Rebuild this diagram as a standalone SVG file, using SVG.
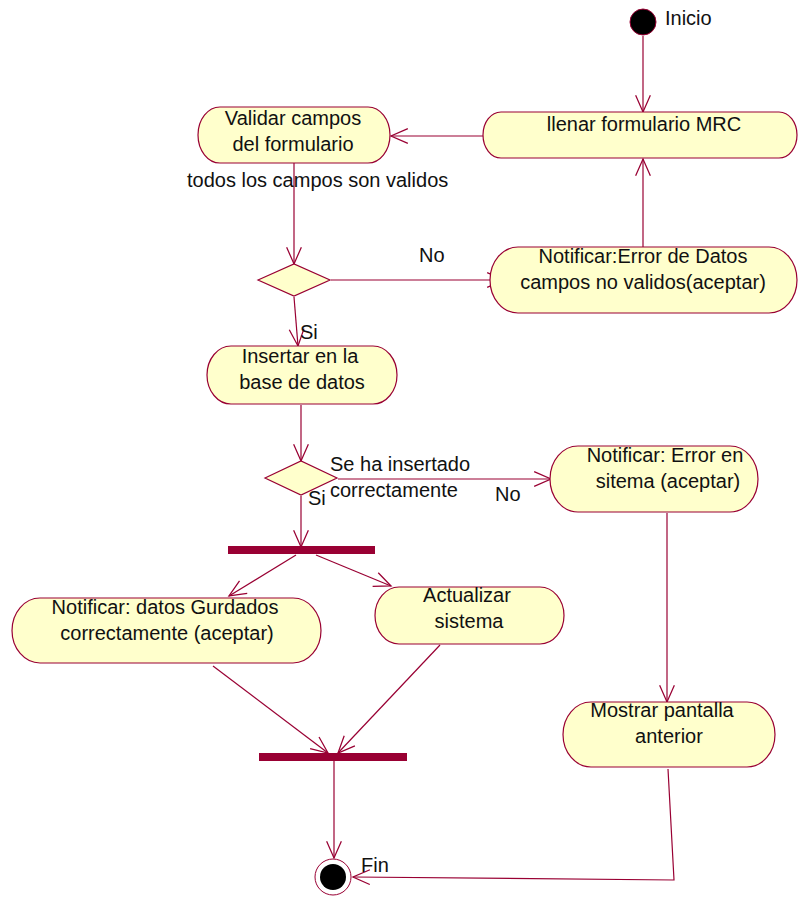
<svg xmlns="http://www.w3.org/2000/svg" width="798" height="897" viewBox="0 0 798 897">
<defs>
<style>
.act{fill:#ffffcc;stroke:#990033;stroke-width:1.2}
.bar{fill:#990033}
.c{fill:none;stroke:#990033;stroke-width:1.2}
text{font-family:"Liberation Sans",Arial,sans-serif;font-size:20px;fill:#111}
.m{text-anchor:middle}
</style>
<marker id="ah" markerUnits="userSpaceOnUse" markerWidth="20" markerHeight="20" viewBox="-17 -9 19 18" refX="0" refY="0" orient="auto">
<path d="M-16,-7 L0,0 L-16,7" fill="none" stroke="#990033" stroke-width="1.2"/>
</marker>
</defs>
<rect width="798" height="897" fill="#ffffff"/>
<g id="connectors">
<path class="c" d="M643,36 L643,112" marker-end="url(#ah)"/>
<path class="c" d="M504,136 L391,136" marker-end="url(#ah)"/>
<path class="c" d="M294,163 L294,264" marker-end="url(#ah)"/>
<path class="c" d="M331,280 L504,280" marker-end="url(#ah)"/>
<path class="c" d="M643,247 L643,159" marker-end="url(#ah)"/>
<path class="c" d="M294,297 L298,346" marker-end="url(#ah)"/>
<path class="c" d="M301,405 L301,461" marker-end="url(#ah)"/>
<path class="c" d="M338,479 L551,479" marker-end="url(#ah)"/>
<path class="c" d="M301,496 L301,547" marker-end="url(#ah)"/>
<path class="c" d="M296,555 L229,596" marker-end="url(#ah)"/>
<path class="c" d="M316,555 L391,586" marker-end="url(#ah)"/>
<path class="c" d="M213,666 L328,753" marker-end="url(#ah)"/>
<path class="c" d="M440,645 L338,753" marker-end="url(#ah)"/>
<path class="c" d="M334,761 L334,858" marker-end="url(#ah)"/>
<path class="c" d="M667,513 L667,702" marker-end="url(#ah)"/>
<path class="c" d="M668,769 L674,880 L353,877" marker-end="url(#ah)"/>
</g>
<g id="inicio">
<circle cx="643" cy="22" r="13" fill="#000" stroke="#990033" stroke-width="1"/>
<text x="665" y="25">Inicio</text>
</g>
<g id="llenar">
<rect class="act" x="483" y="112" width="314" height="46" rx="18" ry="23"/>
<text class="m" x="644" y="131">llenar formulario MRC</text>
</g>
<g id="validar">
<rect class="act" x="198" y="107" width="192" height="56" rx="22" ry="28"/>
<text class="m" x="293" y="125">Validar campos</text>
<text class="m" x="293" y="151">del formulario</text>
</g>
<g id="label-validos">
<text x="187" y="187">todos los campos son validos</text>
</g>
<g id="decision1">
<path class="act" d="M258,280 L294,264 L330,280 L294,296 Z"/>
<text x="419" y="262">No</text>
<text x="300" y="339">Si</text>
</g>
<g id="notificar-error-datos">
<rect class="act" x="490" y="247" width="307" height="66" rx="28" ry="33"/>
<text class="m" x="643" y="263">Notificar:Error de Datos</text>
<text class="m" x="643" y="289">campos no validos(aceptar)</text>
</g>
<g id="insertar">
<rect class="act" x="207" y="346" width="190" height="58" rx="24" ry="29"/>
<text class="m" x="300" y="363">Insertar en la</text>
<text class="m" x="302" y="389">base de datos</text>
</g>
<g id="decision2">
<path class="act" d="M265,478 L301,461 L337,478 L301,495 Z"/>
<text x="330" y="471">Se ha insertado</text>
<text x="330" y="497">correctamente</text>
<text x="495" y="501">No</text>
<text x="308" y="505">Si</text>
</g>
<g id="notificar-error-sistema">
<rect class="act" x="550" y="446" width="208" height="66" rx="28" ry="33"/>
<text class="m" x="665" y="462">Notificar: Error en</text>
<text class="m" x="668" y="488">sitema (aceptar)</text>
</g>
<g id="fork">
<rect class="bar" x="228" y="546" width="147" height="8"/>
</g>
<g id="notificar-guardados">
<rect class="act" x="12" y="598" width="309" height="65" rx="28" ry="32.5"/>
<text class="m" x="165" y="614">Notificar: datos Gurdados</text>
<text class="m" x="167" y="640">correctamente (aceptar)</text>
</g>
<g id="actualizar">
<rect class="act" x="375" y="587" width="189" height="57" rx="24" ry="28.5"/>
<text class="m" x="467" y="602">Actualizar</text>
<text class="m" x="469" y="628">sistema</text>
</g>
<g id="join">
<rect class="bar" x="259" y="753" width="148" height="8"/>
</g>
<g id="mostrar">
<rect class="act" x="563" y="702" width="212" height="65" rx="28" ry="32.5"/>
<text class="m" x="662" y="717">Mostrar pantalla</text>
<text class="m" x="669" y="743">anterior</text>
</g>
<g id="fin">
<circle cx="333" cy="877" r="18" fill="#ffffff" stroke="#990033" stroke-width="1"/>
<circle cx="333" cy="877" r="13" fill="#000"/>
<text x="361" y="872">Fin</text>
</g>
</svg>
